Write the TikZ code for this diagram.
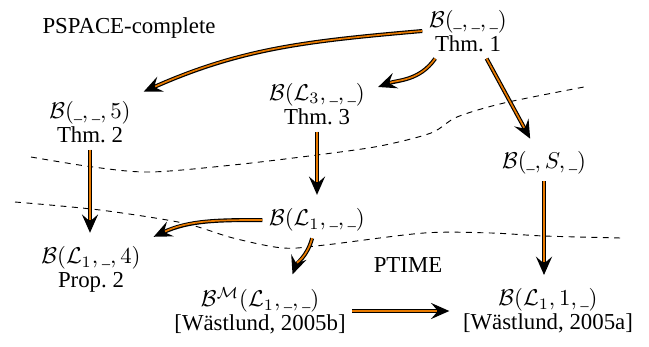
\documentclass[tikz,border=0pt]{standalone}
\usepackage{amsmath,amssymb}
\usepackage[no-math]{fontspec}
\setmainfont{Liberation Serif}
\usepackage{tikz}
\usetikzlibrary{arrows.meta,calc}
\usepackage{xcolor}
\definecolor{redarrow}{RGB}{232,122,0}
\newcommand{\bl}{\text{\scriptsize\_}}

\tikzset{
  cls/.style={align=center, inner sep=2pt, outer sep=1pt},
  reduce/.style={draw=redarrow, line width=0.75pt, shorten >=8.5pt,
    preaction={draw=black, line width=1.75pt, shorten >=3pt,
      -{Stealth[length=8pt,width=7pt,inset=3pt]}}},
  border/.style={dash pattern=on 2.6pt off 2.4pt, line width=0.4pt},
}

\begin{document}
\begin{tikzpicture}[x=0.0154cm, y=0.0154cm]
    \useasboundingbox (0,0) rectangle (649,346);

    % complexity regions
    \draw[border] plot[smooth] coordinates {(31,189) (93,179) (150,174) (233,181) (317,191)
      (380,200) (431,213) (457,229) (504,243) (584,259)};
    \draw[border] plot[smooth] coordinates {(15,144) (100,136) (183,123) (233,108) (283,98)
      (325,101) (424,113) (491,113) (544,110) (621,108)};
    \node (pspace) at (129,318) {PSPACE-complete};
    \node (ptime) at (408,81) {PTIME};

    % problems
    \node[cls] (top) at (468,315) {$\mathcal{B}(\bl,\bl,\bl)$\\[-1.5pt]Thm.~1};
    \node[cls] (n5) at (90,224) {$\mathcal{B}(\bl,\bl,5)$\\[-1.5pt]Thm.~2};
    \node[cls] (nL3) at (317,242) {$\mathcal{B}(\mathcal{L}_3,\bl,\bl)$\\[-1.5pt]Thm.~3};
    \node[cls] (nS) at (544,183) {$\mathcal{B}(\bl,S,\bl)$};
    \node[cls] (nL1) at (317,126) {$\mathcal{B}(\mathcal{L}_1,\bl,\bl)$};
    \node[cls] (n4) at (91,76.5) {$\mathcal{B}(\mathcal{L}_1,\bl,4)$\\[-1.5pt]Prop.~2};
    \node[cls] (nM) at (260,35) {$\mathcal{B}^{\mathcal{M}}(\mathcal{L}_1,\bl,\bl)$\\[-1.5pt][Wästlund, 2005b]};
    \node[cls] (n1) at (548,35) {$\mathcal{B}(\mathcal{L}_1,1,\bl)$\\[-1.5pt][Wästlund, 2005a]};

    % reductions
    \draw[reduce] (top.west) to[out=185, in=24] (n5.north east);
    \draw[reduce] (top.-140) to[out=-125, in=20] (nL3.15);
    \draw[reduce] (top.-56) -- (nS.120);
    \draw[reduce] (n5.south) -- (n5.south |- n4.north);
    \draw[reduce] (nL3.south) -- (nL1.north);
    \draw[reduce] (nS.south) -- (nS.south |- n1.north);
    \draw[reduce] (nL1.west) to[out=180, in=25] (n4.north east);
    \draw[reduce] (nL1.-105) to[out=-105, in=70] (nM.45);
    \draw[reduce] (nM.east) -- (nM.east -| n1.west);
\end{tikzpicture}
\end{document}
